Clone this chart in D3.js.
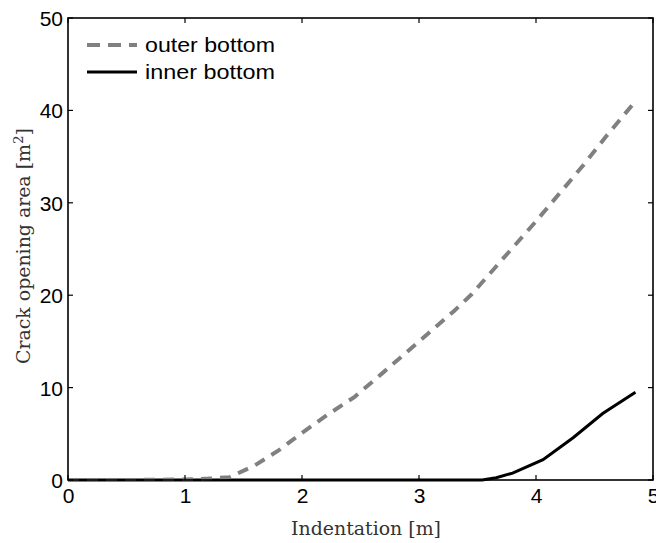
<!DOCTYPE html>
<html>
<head>
<meta charset="utf-8">
<script src="https://cdn.jsdelivr.net/npm/d3@7"></script>
<style>
  html, body { margin: 0; padding: 0; background: #fff; }
  svg { display: block; }
</style>
</head>
<body>
<svg id="chart" width="656" height="543"></svg>
<script>
// Indentation values [m] and crack opening area [m^2] for each bottom plate
const outerX = [0, 0.5, 1.0, 1.2, 1.38, 1.6, 1.8, 2.0, 2.2, 2.45, 2.7, 3.0, 3.3, 3.45, 3.7, 4.0, 4.2, 4.4, 4.6, 4.85];
const outerY = [0, 0, 0.05, 0.15, 0.3, 1.6, 3.2, 5.1, 6.9, 9.0, 11.7, 15.0, 18.3, 20.1, 23.7, 28.0, 31.0, 34.0, 37.2, 41.0];
const innerX = [0, 1.0, 2.0, 3.0, 3.54, 3.66, 3.80, 4.06, 4.32, 4.57, 4.85];
const innerY = [0, 0, 0, 0, 0, 0.25, 0.75, 2.2, 4.6, 7.2, 9.5];

const xTicks = [0, 1, 2, 3, 4, 5];
const yTicks = [0, 10, 20, 30, 40, 50];
const seriesNames = ["outer bottom", "inner bottom"];

const svg = d3.select("#chart");
const plotL = 68, plotR = 653, plotT = 18, plotB = 480;

const x = d3.scaleLinear().domain([0, 5]).range([plotL, plotR]);
const y = d3.scaleLinear().domain([0, 50]).range([plotB, plotT]);

const sans = "'Liberation Sans', Arial, Helvetica, sans-serif";
const serif = "'DejaVu Serif', 'Liberation Serif', serif";

// Data lines
const line = d3.line().x(d => x(d[0])).y(d => y(d[1]));
const inner = d3.zip(innerX, innerY);
const outer = d3.zip(outerX, outerY);

svg.append("path")
  .datum(inner)
  .attr("d", line)
  .attr("fill", "none")
  .attr("stroke", "#000")
  .attr("stroke-width", 3);

svg.append("path")
  .datum(outer)
  .attr("d", line)
  .attr("fill", "none")
  .attr("stroke", "#808080")
  .attr("stroke-width", 4)
  .attr("stroke-dasharray", "11,8");

// Axes with inward ticks on all four sides
const tickLen = 5;
const axisBottom = d3.axisBottom(x).tickValues(xTicks).tickSize(0).tickPadding(8).tickFormat(d3.format("d"));
const axisLeft = d3.axisLeft(y).tickValues(yTicks).tickSize(0).tickPadding(5).tickFormat(d3.format("d"));

const gx = svg.append("g").attr("transform", `translate(0,${plotB})`).call(axisBottom);
const gy = svg.append("g").attr("transform", `translate(${plotL},0)`).call(axisLeft);
[gx, gy].forEach(g => {
  g.select(".domain").remove();
  g.selectAll("text").attr("font-family", sans).attr("font-size", 21).attr("fill", "#000");
});
gx.selectAll("text").attr("dy", "0.71em");
gy.selectAll("text").attr("dy", "0.36em");

const ticks = svg.append("g").attr("stroke", "#000").attr("stroke-width", 1.2);
xTicks.forEach(t => {
  ticks.append("line").attr("x1", x(t)).attr("x2", x(t)).attr("y1", plotB).attr("y2", plotB - tickLen);
  ticks.append("line").attr("x1", x(t)).attr("x2", x(t)).attr("y1", plotT).attr("y2", plotT + tickLen);
});
yTicks.forEach(t => {
  ticks.append("line").attr("x1", plotL).attr("x2", plotL + tickLen).attr("y1", y(t)).attr("y2", y(t));
  ticks.append("line").attr("x1", plotR).attr("x2", plotR - tickLen).attr("y1", y(t)).attr("y2", y(t));
});

// Frame
svg.append("rect")
  .attr("x", plotL).attr("y", plotT)
  .attr("width", plotR - plotL).attr("height", plotB - plotT)
  .attr("fill", "none").attr("stroke", "#000").attr("stroke-width", 1.6);

// Axis titles
svg.append("text")
  .attr("x", 366).attr("y", 535)
  .attr("text-anchor", "middle")
  .attr("font-family", serif).attr("font-size", 18).attr("fill", "#333")
  .attr("textLength", 150).attr("lengthAdjust", "spacingAndGlyphs")
  .text("Indentation [m]");

const yl = svg.append("text")
  .attr("transform", `translate(30,246) rotate(-90)`)
  .attr("text-anchor", "middle")
  .attr("font-family", serif).attr("font-size", 18).attr("fill", "#333")
  .attr("textLength", 236).attr("lengthAdjust", "spacingAndGlyphs");
yl.append("tspan").text("Crack opening area [m");
yl.append("tspan").attr("font-size", 13).attr("dy", -7).text("2");
yl.append("tspan").attr("dy", 7).text("]");

// Legend
const legend = svg.append("g");
const legendRows = [
  { name: seriesNames[0], color: "#808080", width: 4, dash: "13,8", yy: 45 },
  { name: seriesNames[1], color: "#000", width: 3, dash: null, yy: 72 }
];
legendRows.forEach(r => {
  legend.append("line")
    .attr("x1", 87).attr("x2", 137).attr("y1", r.yy).attr("y2", r.yy)
    .attr("stroke", r.color).attr("stroke-width", r.width)
    .attr("stroke-dasharray", r.dash);
  legend.append("text")
    .attr("x", 145).attr("y", r.yy + 7)
    .attr("font-family", sans).attr("font-size", 21).attr("fill", "#000")
    .attr("textLength", 130).attr("lengthAdjust", "spacingAndGlyphs")
    .text(r.name);
});
</script>
</body>
</html>
